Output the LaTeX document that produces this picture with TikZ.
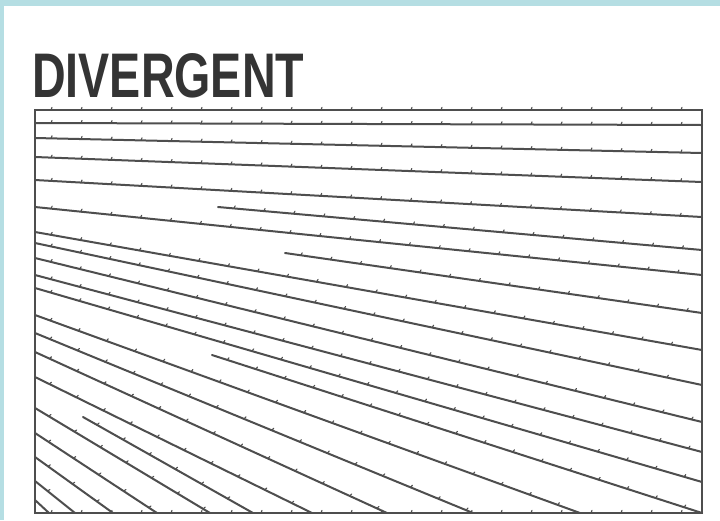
\documentclass[tikz,border=0pt]{standalone}
\usepackage{fontspec}
\setmainfont{Liberation Sans}
\usetikzlibrary{decorations.markings}
\definecolor{framecyan}{RGB}{181,222,227}
\definecolor{penink}{RGB}{78,78,78}
\definecolor{titleink}{RGB}{52,52,52}
\tikzset{
  fieldline/.style={draw=penink,line width=2pt,line cap=round,
    postaction={decorate,decoration={markings,
      mark=between positions 17pt and -5pt step 30pt with {\draw[penink,line width=1.1pt] (-1,0) -- (0,-2.6);}}}},
  boxline/.style={draw=penink,line width=2pt}
}

\begin{document}
\begin{tikzpicture}[x=1pt,y=-1pt]
  \useasboundingbox (0,0) rectangle (720,520);
  \fill[white] (0,0) rectangle (720,520);
  \fill[framecyan] (0,0) rectangle (720,6);
  \fill[framecyan] (0,0) rectangle (4,520);

  \node[anchor=base west,inner sep=0pt,text=titleink] (title) at (32,97)
    {\scalebox{0.74}[1]{\fontsize{63}{63}\selectfont\bfseries DIVERGENT}};

  % frame of the field
  \coordinate (nw) at (35,110);
  \coordinate (se) at (702,513);
  \draw[boxline] (nw) rectangle (se);
  \path[fieldline] (nw) -- (nw -| se);
  \path[fieldline] (se -| nw) -- (se);

  % streamlines, start and end
  \foreach \xa/\ya/\xb/\yb in {
      35/123/702/125, 35/138/702/153, 35/157/702/182, 35/180/702/217,
      218/207/702/250, 35/207/702/275, 285/253/702/313, 35/232/702/350,
      35/243/702/385, 35/258/702/422, 35/275/702/452, 35/288/702/482,
      212/355/702/513, 35/315/580/513, 35/333/473/513, 35/352/387/513,
      35/377/312/513, 83/417/253/513, 35/408/210/513, 35/433/157/513,
      35/457/113/513, 35/481/75/513, 35/500/49/513}
    \path[fieldline] (\xa,\ya) -- (\xb,\yb);
\end{tikzpicture}
\end{document}
